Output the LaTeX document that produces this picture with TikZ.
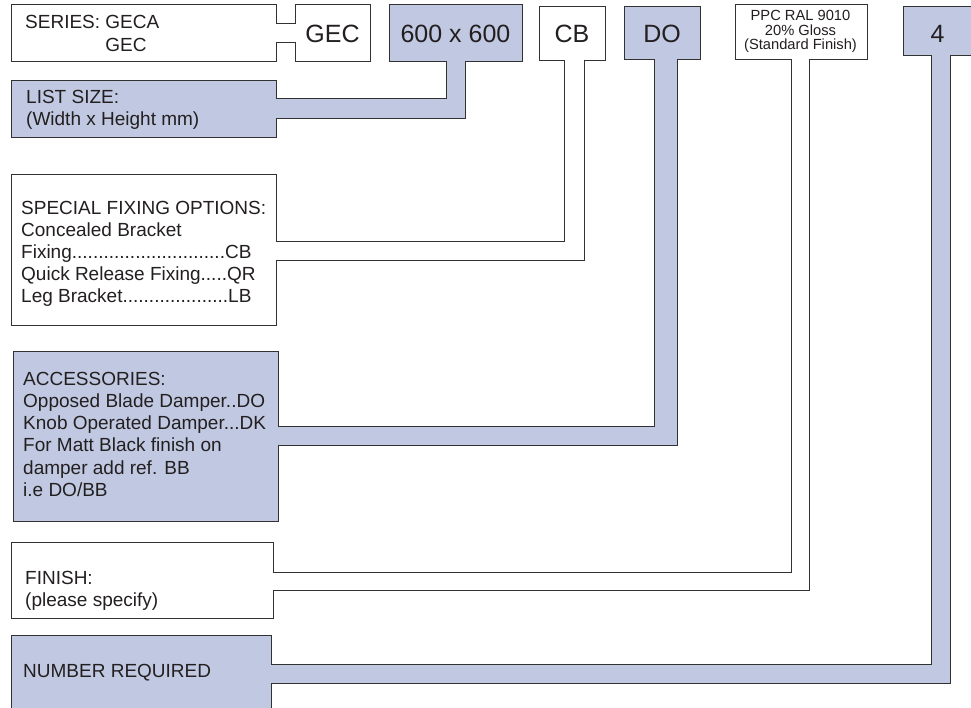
\documentclass[tikz,border=0pt]{standalone}
\usepackage{fontspec}
\setmainfont{Liberation Sans}
\usetikzlibrary{calc}
\definecolor{tagblue}{RGB}{193,201,226}
\definecolor{ink}{RGB}{35,31,32}
\definecolor{edgecol}{RGB}{50,50,50}
% #1 left box, #2 top box, #3 inner x, #4 outer x, #5 inner y, #6 outer y, #7 fill
\newcommand\tagconn[7]{%
  \fill[#7] ([xshift=-1pt]#1.east |- 0,#5) -- (#3,#5) -- ([yshift=1pt]#2.south -| #3,0)
     -- ([yshift=1pt]#2.south -| #4,0) -- (#4,#6) -- ([xshift=-1pt]#1.east |- 0,#6) -- cycle;
  \draw[conn] (#1.east |- 0,#5) -- (#3,#5) -- (#2.south -| #3,0);
  \draw[conn] (#1.east |- 0,#6) -- (#4,#6) -- (#2.south -| #4,0);
}
\begin{document}
\begin{tikzpicture}[x=1pt,y=-1pt,
  box/.style={draw=edgecol, line width=1pt, outer sep=0pt, inner sep=0pt, anchor=north west},
  wbox/.style={box, fill=white},
  bbox/.style={box, fill=tagblue},
  conn/.style={draw=edgecol, line width=1pt, line cap=rect},
  body/.style={inner sep=0pt, anchor=base west, text=ink, font=\fontsize{19}{22}\selectfont},
  big/.style={inner sep=0pt, anchor=base, text=ink, font=\fontsize{25}{30}\selectfont},
  small/.style={inner sep=0pt, anchor=base, text=ink, font=\fontsize{14.7}{15}\selectfont}]
\useasboundingbox (0,0) rectangle (971,707);
\clip (0,0) rectangle (971,707);

% boxes
\node[wbox, minimum width=265pt, minimum height=57pt] (series) at (11,4) {};
\node[wbox, minimum width=75pt, minimum height=57pt] (gec) at (295,4) {};
\node[bbox, minimum width=133pt, minimum height=57pt] (size) at (389,4) {};
\node[bbox, minimum width=265pt, minimum height=57pt] (listsize) at (11,80) {};
\node[wbox, minimum width=66pt, minimum height=54pt] (cb) at (539,6) {};
\node[wbox, minimum width=265pt, minimum height=151pt] (special) at (11,174) {};
\node[bbox, minimum width=76pt, minimum height=53pt] (do) at (624,6) {};
\node[bbox, minimum width=265pt, minimum height=170pt] (acc) at (13,351) {};
\node[wbox, minimum width=132pt, minimum height=55pt] (ppc) at (735,4) {};
\node[wbox, minimum width=262pt, minimum height=76pt] (finish) at (11,542) {};
\node[bbox, minimum width=80pt, minimum height=49pt] (four) at (903,6) {};
\node[bbox, minimum width=260pt, minimum height=90pt] (number) at (11,635) {};

% connectors
\fill[white] ([xshift=-1pt]series.east |- 0,23) rectangle ([xshift=1pt]gec.west |- 0,42);
\draw[conn] (series.east |- 0,23) -- (gec.west |- 0,23);
\draw[conn] (series.east |- 0,42) -- (gec.west |- 0,42);
\tagconn{listsize}{size}{446}{465}{98}{118}{tagblue}
\tagconn{special}{cb}{564}{584}{241}{260}{white}
\tagconn{acc}{do}{654}{677}{426}{445}{tagblue}
\tagconn{finish}{ppc}{791}{809}{572}{590}{white}
\tagconn{number}{four}{931}{950}{664}{683}{tagblue}

% texts in the top boxes
\node[body] (t-series1) at (25,28) {SERIES: GECA};
\node[body] (t-series2) at (25,51) {\phantom{SERIES: }GEC};
\node[big] (t-gec) at (332.5,42.5) {GEC};
\node[big] (t-size) at (455.5,42.5) {600 x 600};
\node[big] (t-cb) at (572,42.5) {CB};
\node[big] (t-do) at (662,42.5) {DO};
\node[small] (t-ppc1) at (800.5,20.2) {PPC RAL 9010};
\node[small] (t-ppc2) at (800.5,35) {20\% Gloss};
\node[small] (t-ppc3) at (800.5,49.3) {(Standard Finish)};
\node[big] (t-four) at (937.5,42.5) {4};

% texts in the left boxes
\node[body] (t-list1) at (26,103) {LIST SIZE:};
\node[body] (t-list2) at (26,125) {(Width x Height mm)};

\node[body] (t-sp1) at (21,214) {SPECIAL FIXING OPTIONS:};
\node[body] (t-sp2) at (21,236) {Concealed Bracket};
\node[body] (t-sp3) at (21,258) {Fixing.............................CB};
\node[body] (t-sp4) at (21,280) {Quick Release Fixing.....QR};
\node[body] (t-sp5) at (21,302) {Leg Bracket....................LB};

\node[body] (t-acc1) at (23,385) {ACCESSORIES:};
\node[body] (t-acc2) at (23,407.3) {Opposed Blade Damper..DO};
\node[body] (t-acc3) at (23,429.6) {Knob Operated Damper...DK};
\node[body] (t-acc4) at (23,451.9) {For Matt Black finish on};
\node[body] (t-acc5) at (23,474.2) {damper add ref. BB};
\node[body] (t-acc6) at (23,496.5) {i.e DO/BB};

\node[body] (t-fin1) at (25,584) {FINISH:};
\node[body] (t-fin2) at (25,606) {(please specify)};

\node[body] (t-num) at (23,677) {NUMBER REQUIRED};
\end{tikzpicture}
\end{document}
